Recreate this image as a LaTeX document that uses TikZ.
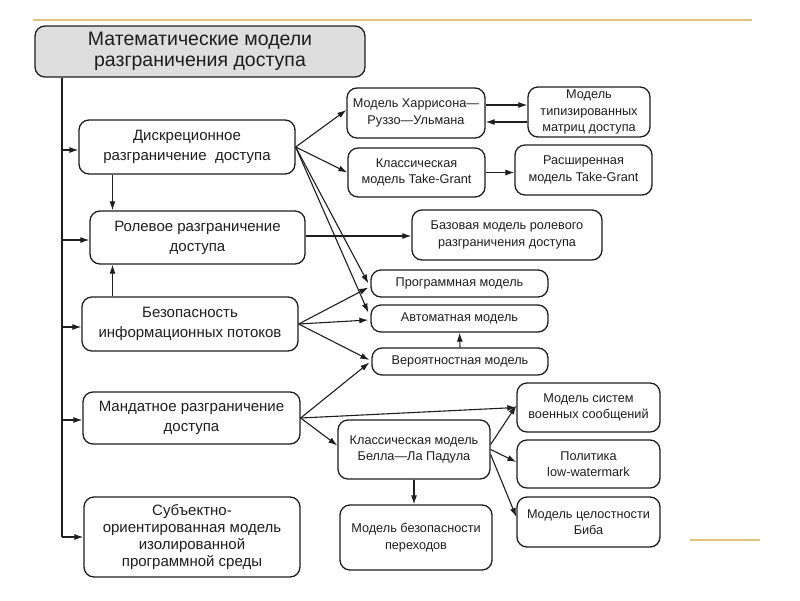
\documentclass[tikz,border=0pt]{standalone}
\usepackage{fontspec}
\setmainfont{Liberation Sans}
\usetikzlibrary{arrows.meta}
\definecolor{gold}{RGB}{222,196,128}
\definecolor{ink}{RGB}{30,30,30}
\definecolor{titlefill}{RGB}{222,222,222}
\tikzset{
  box/.style={draw=ink, line width=1.3pt, rounded corners=10pt, inner sep=0pt, align=center, text=ink},
  bigbox/.style={box, font=\fontsize{15}{20}\selectfont},
  smallbox/.style={box, font=\fontsize{12.7}{16.5}\selectfont},
  arr/.style={draw=ink, line width=1.1pt, -{Latex[length=9pt,width=6pt]}},
  ln/.style={draw=ink, line width=1.1pt},
  goldline/.style={draw=gold, line width=2pt}
}
\begin{document}
\begin{tikzpicture}[x=1pt,y=-1pt]
\useasboundingbox (0,0) rectangle (800,600);
\fill[white] (0,0) rectangle (800,600);
\coordinate (g1) at (33,20); \coordinate (g2) at (752,20);
\coordinate (g3) at (690,540); \coordinate (g4) at (760,540);
\draw[goldline] (g1) -- (g2);
\draw[goldline] (g3) -- (g4);

\node[box, fill=titlefill, font=\fontsize{19.5}{21}\selectfont, minimum width=330pt, minimum height=51pt] (title) at (200,51.5) {Математические модели\\разграничения доступа};

\node[bigbox, minimum width=216pt, minimum height=54pt] (disk) at (187,147) {Дискреционное\\разграничение\ \ доступа};
\node[bigbox, minimum width=215pt, minimum height=53pt] (role) at (197.5,237.5) {Ролевое разграничение\\доступа};
\node[bigbox, minimum width=216pt, minimum height=54pt] (bez) at (190,324) {Безопасность\\информационных потоков};
\node[bigbox, minimum width=217pt, minimum height=52pt] (mand) at (191.5,418) {Мандатное разграничение\\доступа};
\node[box, font=\fontsize{15}{17}\selectfont, minimum width=216pt, minimum height=80pt] (subj) at (192,537) {Субъектно-\\ориентированная модель\\изолированной\\программной среды};

\node[smallbox, minimum width=138pt, minimum height=50pt] (harr) at (416,113) {Модель Харрисона—\\Руззо—Ульмана};
\node[smallbox, minimum width=122pt, minimum height=50pt] (tip) at (589,112) {Модель\\типизированных\\матриц доступа};
\node[smallbox, minimum width=137pt, minimum height=49pt] (ktg) at (416.5,172.5) {Классическая\\модель Take-Grant};
\node[smallbox, minimum width=137pt, minimum height=50pt] (rtg) at (583.5,170) {Расширенная\\модель Take-Grant};
\node[smallbox, minimum width=190pt, minimum height=50pt] (baz) at (507,235) {Базовая модель ролевого\\разграничения доступа};
\node[smallbox, minimum width=177pt, minimum height=27pt] (prog) at (459.5,283.5) {Программная модель};
\node[smallbox, minimum width=177pt, minimum height=27pt] (avt) at (459.5,318.5) {Автоматная модель};
\node[smallbox, minimum width=176pt, minimum height=27pt] (ver) at (460,361.5) {Вероятностная модель};
\node[smallbox, minimum width=152pt, minimum height=59pt] (bella) at (414,449.5) {Классическая модель\\Белла—Ла Падула};
\node[smallbox, minimum width=152pt, minimum height=65pt] (perex) at (416,537.5) {Модель безопасности\\переходов};
\node[smallbox, minimum width=143pt, minimum height=49pt] (voen) at (588.5,407.5) {Модель систем\\военных сообщений};
\node[smallbox, minimum width=143pt, minimum height=48pt] (polit) at (588.5,464) {Политика\\low-watermark};
\node[smallbox, minimum width=143pt, minimum height=50pt] (biba) at (588.5,522) {Модель целостности\\Биба};

% trunk
\coordinate (tk) at (62,537);
\coordinate (vx) at (112.5,0);
\draw[ln] (title.south -| tk) -- (subj.west -| tk);
\draw[arr] ([yshift=-3pt]disk.west -| tk) -- ([yshift=-3pt]disk.west);
\draw[arr] ([yshift=-2.5pt]role.west -| tk) -- ([yshift=-2.5pt]role.west);
\draw[arr] ([yshift=-3pt]bez.west -| tk) -- ([yshift=-3pt]bez.west);
\draw[arr] ([yshift=-2pt]mand.west -| tk) -- ([yshift=-2pt]mand.west);
\draw[arr] (subj.west -| tk) -- (subj.west);

% vertical
\draw[arr] (disk.south -| vx) -- (role.north -| vx);
\draw[arr] (bez.north -| vx) -- (role.south -| vx);

% discretionary fan
\draw[arr] (disk.east) -- ([yshift=3pt]harr.west);
\draw[arr] (disk.east) -- (ktg.west);
\draw[arr] (disk.east) -- ([xshift=-2pt]prog.west);
\draw[arr] (disk.east) -- ([xshift=-2pt,yshift=6pt]avt.west);
\draw[arr] ([yshift=8pt]harr.east) -- ([yshift=8pt]harr.east -| tip.west);
\draw[arr] ([yshift=-9pt]harr.east -| tip.west) -- ([yshift=-9pt]harr.east);
\draw[arr] (ktg.east) -- (ktg.east -| rtg.west);
\draw[arr] ([yshift=1.5pt]role.east) -- ([yshift=1.5pt]role.east -| baz.west);

% information flows
\draw[arr] (bez.east) -- ([xshift=-2pt,yshift=-4pt]prog.west);
\draw[arr] (bez.east) -- ([xshift=-2pt,yshift=-1.5pt]avt.west);
\draw[arr] (bez.east) -- ([xshift=-2pt,yshift=1.5pt]ver.west);
\draw[arr] (ver.north) -- (avt.south);

% mandatory
\draw[arr] (mand.east) -- ([xshift=-2pt,yshift=-1pt]ver.west);
\draw[arr] (mand.east) -- (voen.west);
\draw[arr] (mand.east) -- ([yshift=4pt]bella.west);
\draw[arr] ([yshift=5pt]bella.east) -- ([yshift=2pt]voen.west);
\draw[arr] (bella.east) -- ([yshift=2pt]polit.west);
\draw[arr] ([yshift=-5pt]bella.east) -- ([yshift=5pt]biba.west);
\draw[arr] (bella.south) -- (perex.north -| bella.south);
\end{tikzpicture}
\end{document}
